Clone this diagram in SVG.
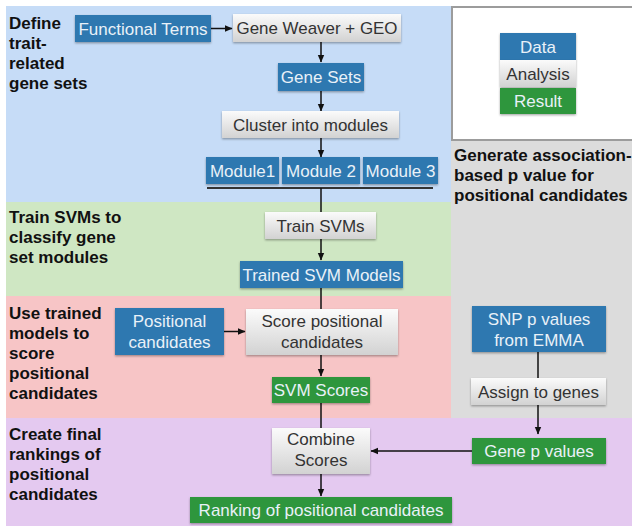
<svg xmlns="http://www.w3.org/2000/svg" width="632" height="526" viewBox="0 0 632 526">
<style>
.lbl{font-family:"Liberation Sans",Arial,sans-serif;font-weight:bold;font-size:17px;fill:#111}
.t{font-family:"Liberation Sans",Arial,sans-serif;font-size:17px;text-anchor:middle}
.tw{fill:#e9f1f8}
.td{fill:#333}
.blue{fill:#2e78b0}
.green{fill:#2f963e}
.gray{fill:url(#gg)}
.c{stroke:#111;stroke-width:1.5;fill:none}
.a{marker-end:url(#ah)}
</style>
<defs>
<linearGradient id="gg" x1="0" y1="0" x2="0" y2="1">
<stop offset="0" stop-color="#fbfbfb"/>
<stop offset="1" stop-color="#d2d2d2"/>
</linearGradient>
<filter id="sh" x="-10%" y="-20%" width="120%" height="150%">
<feDropShadow dx="0" dy="1.2" stdDeviation="0.8" flood-color="#000" flood-opacity="0.35"/>
</filter>
<marker id="ah" markerWidth="8" markerHeight="8" refX="7" refY="4" orient="auto" markerUnits="userSpaceOnUse">
<path d="M0,0.8 L7.5,4 L0,7.2 Z" fill="#111"/>
</marker>
</defs>

<g id="bands">
<rect x="6" y="6" width="445" height="196" fill="#c6dcf7"/>
<rect x="6" y="202" width="445" height="94" fill="#cfe7c3"/>
<rect x="6" y="296" width="445" height="122" fill="#f7c5c6"/>
<rect x="451" y="140" width="181" height="278" fill="#dcdcdc"/>
<rect x="6" y="418" width="626" height="108" fill="#e4c9f0"/>
<rect x="452" y="7" width="182" height="133" fill="#fff" stroke="#9c9c9c" stroke-width="2"/>
</g>

<g id="labels">
<text class="lbl" x="9"><tspan x="9" y="29">Define</tspan><tspan x="9" y="49">trait-</tspan><tspan x="9" y="69">related</tspan><tspan x="9" y="89">gene sets</tspan></text>
<text class="lbl"><tspan x="9" y="223">Train SVMs to</tspan><tspan x="9" y="243">classify gene</tspan><tspan x="9" y="263">set modules</tspan></text>
<text class="lbl"><tspan x="9" y="319">Use trained</tspan><tspan x="9" y="339">models to</tspan><tspan x="9" y="359">score</tspan><tspan x="9" y="379">positional</tspan><tspan x="9" y="399">candidates</tspan></text>
<text class="lbl"><tspan x="9" y="440">Create final</tspan><tspan x="9" y="460">rankings of</tspan><tspan x="9" y="480">positional</tspan><tspan x="9" y="500">candidates</tspan></text>
<text class="lbl"><tspan x="454" y="161">Generate association-</tspan><tspan x="454" y="181">based p value for</tspan><tspan x="454" y="201">positional candidates</tspan></text>
</g>

<g id="legend">
<rect class="blue" x="500" y="33" width="76" height="27" filter="url(#sh)"/>
<text class="t tw" x="538" y="52.5">Data</text>
<rect class="gray" x="500" y="60" width="76" height="27" filter="url(#sh)"/>
<text class="t td" x="538" y="79.5">Analysis</text>
<rect class="green" x="500" y="88" width="76" height="26" filter="url(#sh)"/>
<text class="t tw" x="538" y="107">Result</text>
</g>

<g id="connectors">
<line class="c a" x1="211" y1="28.5" x2="232" y2="28.5"/>
<line class="c a" x1="321" y1="42" x2="321" y2="62"/>
<line class="c a" x1="321" y1="91" x2="321" y2="111"/>
<line class="c a" x1="321" y1="138" x2="321" y2="157"/>
<line x1="207" y1="188" x2="433" y2="188" stroke="#333" stroke-width="2"/>
<line class="c" x1="321" y1="188" x2="321" y2="212"/>
<line class="c a" x1="321" y1="239" x2="321" y2="260"/>
<line class="c" x1="321" y1="288" x2="321" y2="309"/>
<line class="c a" x1="224" y1="331.5" x2="245" y2="331.5"/>
<line class="c a" x1="321" y1="355" x2="321" y2="376"/>
<line class="c" x1="321" y1="403" x2="321" y2="428"/>
<line class="c" x1="538" y1="352" x2="538" y2="378"/>
<line class="c a" x1="538" y1="405" x2="538" y2="434"/>
<line class="c a" x1="472" y1="451" x2="371" y2="451"/>
<line class="c a" x1="321" y1="474" x2="321" y2="496"/>
</g>

<g id="functional-terms">
<rect class="blue" x="75" y="15" width="136" height="27" filter="url(#sh)"/>
<text class="t tw" x="143" y="34.5">Functional Terms</text>
</g>
<g id="gene-weaver">
<rect class="gray" x="233" y="14" width="168" height="28" filter="url(#sh)"/>
<text class="t td" x="317" y="34" textLength="161" lengthAdjust="spacingAndGlyphs">Gene Weaver + GEO</text>
</g>
<g id="gene-sets">
<rect class="blue" x="278" y="63" width="86" height="28" filter="url(#sh)"/>
<text class="t tw" x="321" y="83">Gene Sets</text>
</g>
<g id="cluster">
<rect class="gray" x="222" y="111" width="177" height="27" filter="url(#sh)"/>
<text class="t td" x="310.5" y="130.5">Cluster into modules</text>
</g>
<g id="module1">
<rect class="blue" x="206" y="157" width="73" height="27" filter="url(#sh)"/>
<text class="t tw" x="242.5" y="176.5">Module1</text>
</g>
<g id="module2">
<rect class="blue" x="282" y="157" width="78" height="27" filter="url(#sh)"/>
<text class="t tw" x="321" y="176.5">Module 2</text>
</g>
<g id="module3">
<rect class="blue" x="363" y="157" width="75" height="27" filter="url(#sh)"/>
<text class="t tw" x="400.5" y="176.5">Module 3</text>
</g>
<g id="train-svms">
<rect class="gray" x="265" y="212" width="111" height="27" filter="url(#sh)"/>
<text class="t td" x="320.5" y="231.5">Train SVMs</text>
</g>
<g id="trained-svm-models">
<rect class="blue" x="240" y="261" width="163" height="27" filter="url(#sh)"/>
<text class="t tw" x="321.5" y="280.5">Trained SVM Models</text>
</g>
<g id="positional-candidates">
<rect class="blue" x="115" y="308" width="109" height="47" filter="url(#sh)"/>
<text class="t tw" x="169.5" y="327">Positional</text>
<text class="t tw" x="169.5" y="348">candidates</text>
</g>
<g id="score-positional">
<rect class="gray" x="246" y="309" width="152" height="46" filter="url(#sh)"/>
<text class="t td" x="322" y="327">Score positional</text>
<text class="t td" x="322" y="348">candidates</text>
</g>
<g id="svm-scores">
<rect class="green" x="272" y="377" width="98" height="26" filter="url(#sh)"/>
<text class="t tw" x="321" y="396">SVM Scores</text>
</g>
<g id="snp-p-values">
<rect class="blue" x="472" y="306" width="134" height="46" filter="url(#sh)"/>
<text class="t tw" x="539" y="324.5">SNP p values</text>
<text class="t tw" x="539" y="345.5">from EMMA</text>
</g>
<g id="assign-to-genes">
<rect class="gray" x="471" y="378" width="135" height="27" filter="url(#sh)"/>
<text class="t td" x="538.5" y="397.5">Assign to genes</text>
</g>
<g id="gene-p-values">
<rect class="green" x="472" y="438" width="134" height="26" filter="url(#sh)"/>
<text class="t tw" x="539" y="457">Gene p values</text>
</g>
<g id="combine-scores">
<rect class="gray" x="272" y="428" width="98" height="46" filter="url(#sh)"/>
<text class="t td" x="321" y="445">Combine</text>
<text class="t td" x="321" y="466">Scores</text>
</g>
<g id="ranking">
<rect class="green" x="190" y="497" width="262" height="26" filter="url(#sh)"/>
<text class="t tw" x="321" y="516">Ranking of positional candidates</text>
</g>
</svg>
